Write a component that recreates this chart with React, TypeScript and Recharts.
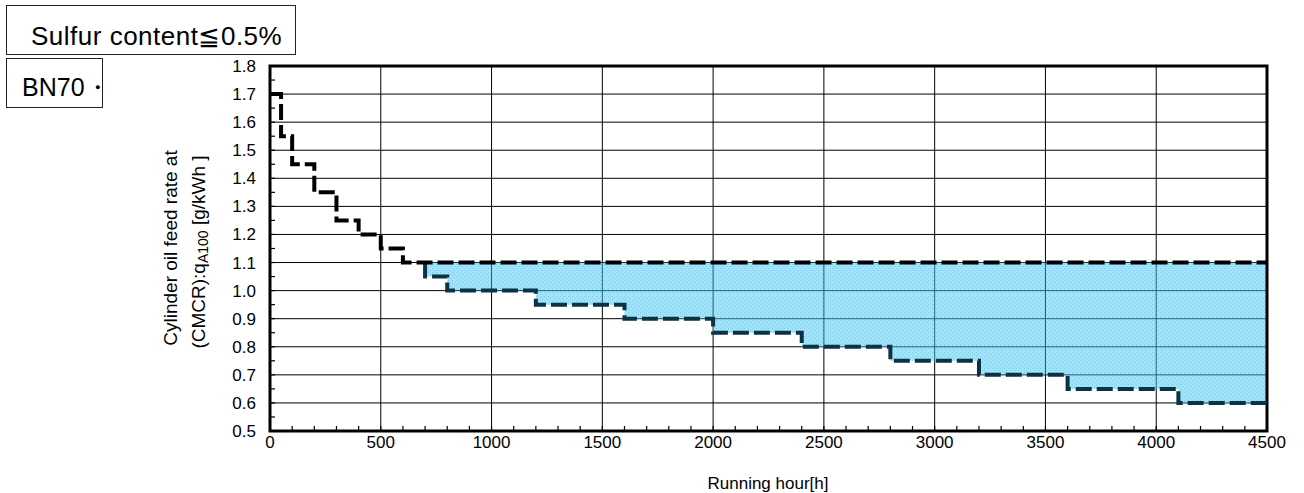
import { Area, CartesianGrid, ComposedChart, Line, ReferenceArea, XAxis, YAxis } from "recharts";

// upper limit step line (feed rate vs running hours)
const UPPER_HOURS = [0, 50, 100, 200, 300, 400, 500, 600, 4500];
const UPPER_RATE = [1.7, 1.55, 1.45, 1.35, 1.25, 1.2, 1.15, 1.1, 1.1];
// lower limit step line, starts where the band opens at 700 h
const LOWER_HOURS = [700, 700, 800, 1200, 1600, 2000, 2400, 2800, 3200, 3600, 4100, 4500];
const LOWER_RATE = [1.1, 1.05, 1.0, 0.95, 0.9, 0.85, 0.8, 0.75, 0.7, 0.65, 0.6, 0.6];

const X_LABELS = [0, 500, 1000, 1500, 2000, 2500, 3000, 3500, 4000, 4500];
const Y_LABELS = [0.5, 0.6, 0.7, 0.8, 0.9, 1.0, 1.1, 1.2, 1.3, 1.4, 1.5, 1.6, 1.7, 1.8];
const X_GRID = [500, 1000, 1500, 2000, 2500, 3000, 3500, 4000];
const Y_GRID = [0.6, 0.7, 0.8, 0.9, 1.0, 1.1, 1.2, 1.3, 1.4, 1.5, 1.6, 1.7];

const FONT = '"Liberation Sans", Arial, sans-serif';
const W = 1304;
const H = 493;

const upperData = UPPER_HOURS.map((h, i) => ({ h, v: UPPER_RATE[i] }));
const lowerData = LOWER_HOURS.map((h, i) => ({ h, v: LOWER_RATE[i] }));

function upperAt(h: number) {
  let v = UPPER_RATE[0];
  UPPER_HOURS.forEach((u, i) => { if (u <= h) v = UPPER_RATE[i]; });
  return v;
}
const bandData = LOWER_HOURS.map((h, i) => ({ h, band: [LOWER_RATE[i], upperAt(h)] }));

// minor ticks: every 100 h and every 0.05 g/kWh
const xMinor = Array.from({ length: 46 }, (_, i) => i * 100);
const yMinor = Array.from({ length: 27 }, (_, i) => Math.round((0.5 + i * 0.05) * 100) / 100);

function XTick({ x, y, payload }: any) {
  const v = payload.value;
  const major = X_LABELS.includes(v);
  return (
    <g>
      <line x1={x} x2={x} y1={y} y2={y - 5} stroke="#000" strokeWidth={1.2} />
      {major && (
        <text x={x} y={y + 17} textAnchor="middle" fontSize={17} fontFamily={FONT} fill="#000">
          {v}
        </text>
      )}
    </g>
  );
}

function YTick({ x, y, payload }: any) {
  const v = payload.value;
  const major = Y_LABELS.some((l) => Math.abs(l - v) < 1e-6);
  return (
    <g>
      <line x1={x} x2={x + 5} y1={y} y2={y} stroke="#000" strokeWidth={1.2} />
      {major && (
        <text x={x - 14} y={y + 6} textAnchor="end" fontSize={17} fontFamily={FONT} fill="#000">
          {v.toFixed(1)}
        </text>
      )}
    </g>
  );
}

const boxStyle = {
  position: "absolute" as const,
  left: 6,
  border: "1.5px solid #222",
  background: "#fff",
  fontFamily: FONT,
  boxSizing: "border-box" as const,
  color: "#000",
  whiteSpace: "nowrap" as const,
};

export default function App() {
  return (
    <div style={{ position: "absolute", left: 0, top: 0, width: W, height: H, background: "#fff" }}>
      <ComposedChart width={W} height={H} margin={{ top: 66, right: 37, bottom: 32, left: 210 }}>
        <defs>
          <pattern id="bandDots" width="4" height="4" patternUnits="userSpaceOnUse">
            <rect width="4" height="4" fill="rgb(62,194,238)" fillOpacity={0.48} />
            <rect x="0" y="0" width="1" height="1" fill="rgb(30,160,215)" fillOpacity={0.35} />
            <rect x="2" y="2" width="1" height="1" fill="rgb(30,160,215)" fillOpacity={0.35} />
          </pattern>
        </defs>
        <CartesianGrid
          stroke="#000"
          strokeWidth={1}
          horizontalValues={Y_GRID}
          verticalValues={X_GRID}
        />
        <XAxis
          dataKey="h"
          type="number"
          domain={[0, 4500]}
          ticks={xMinor}
          interval={0}
          allowDuplicatedCategory={false}
          axisLine={false}
          tickLine={false}
          tickSize={0}
          tickMargin={0}
          tick={<XTick />}
          height={30}
        />
        <YAxis
          type="number"
          domain={[0.5, 1.8]}
          ticks={yMinor}
          interval={0}
          axisLine={false}
          tickLine={false}
          tickSize={0}
          tickMargin={0}
          tick={<YTick />}
          width={60}
        />
        <Area
          data={bandData}
          dataKey="band"
          type="stepAfter"
          fill="url(#bandDots)"
          fillOpacity={1}
          stroke="none"
          isAnimationActive={false}
        />
        <Line
          data={lowerData}
          dataKey="v"
          type="stepAfter"
          stroke="#0a3346"
          strokeWidth={4}
          strokeDasharray="16 5"
          dot={false}
          activeDot={false}
          isAnimationActive={false}
        />
        <Line
          data={upperData}
          dataKey="v"
          type="stepAfter"
          stroke="#000"
          strokeWidth={4}
          strokeDasharray="16 5"
          dot={false}
          activeDot={false}
          isAnimationActive={false}
        />
        <ReferenceArea
          x1={0}
          x2={4500}
          y1={0.5}
          y2={1.8}
          fill="none"
          stroke="#000"
          strokeWidth={3}
          ifOverflow="visible"
        />
        <text
          transform="translate(170,248) rotate(-90)"
          textAnchor="middle"
          dominantBaseline="central"
          fontSize={19}
          fontFamily={FONT}
          fill="#000"
        >
          Cylinder oil feed rate at
        </text>
        <text
          transform="translate(198,252) rotate(-90)"
          textAnchor="middle"
          dominantBaseline="central"
          fontSize={19}
          fontFamily={FONT}
          fill="#000"
        >
          (CMCR):q
          <tspan fontSize={14} dy={5}>A100</tspan>
          <tspan dy={-5}> [g/kWh ]</tspan>
        </text>
        <text x={768} y={489} textAnchor="middle" fontSize={17} fontFamily={FONT} fill="#000">
          Running hour[h]
        </text>
      </ComposedChart>
      <div style={{ ...boxStyle, top: 5, width: 290, height: 50, paddingLeft: 24, paddingTop: 15, fontSize: 26, letterSpacing: 0.5, lineHeight: "30px" }}>
        Sulfur content≦0.5%
      </div>
      <div style={{ ...boxStyle, top: 58, width: 97, height: 50, paddingLeft: 15, paddingTop: 13, fontSize: 25, lineHeight: "30px" }}>
        BN70・
      </div>
    </div>
  );
}
